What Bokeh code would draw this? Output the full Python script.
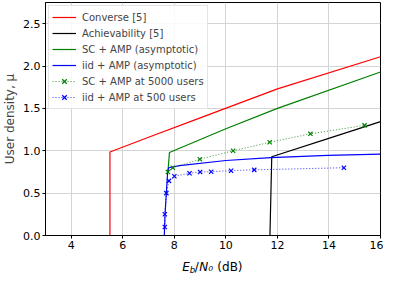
from bokeh.plotting import figure
from bokeh.layouts import column
from bokeh.models import FixedTicker, PrintfTickFormatter, Label, Legend, LegendItem, Range1d
from bokeh.embed import file_html
from bokeh.resources import INLINE

# ---- data ----
conv_x = [5.5, 5.5, 7.0, 8.9, 12.0, 16.0]
conv_y = [0.0, 0.985, 1.16, 1.376, 1.73, 2.11]
ach_x = [11.71, 11.78, 14.02, 16.0]
ach_y = [0.0, 0.93, 1.15, 1.344]
sc_x = [7.75, 7.81, 10.0, 12.0, 16.0]
sc_y = [0.75, 0.98, 1.26, 1.50, 1.93]
iid_x = [7.61, 7.64, 7.69, 7.74, 7.78, 8.2, 10.0, 11.74, 13.96, 16.0]
iid_y = [0.0, 0.25, 0.5, 0.75, 0.80, 0.825, 0.885, 0.92, 0.946, 0.96]
sc5000_x = [7.75, 7.94, 8.99, 10.28, 11.70, 13.28, 15.38]
sc5000_y = [0.75, 0.80, 0.90, 1.00, 1.10, 1.20, 1.30]
iid500_x = [7.63, 7.63, 7.69, 7.79, 8.0, 8.59, 9.0, 9.43, 10.2, 11.1, 14.58]
iid500_y = [0.10, 0.25, 0.50, 0.645, 0.70, 0.735, 0.75, 0.753, 0.765, 0.775, 0.80]

x_ticks = [4, 6, 8, 10, 12, 14, 16]
y_ticks = [0.0, 0.5, 1.0, 1.5, 2.0, 2.5]
labels = ["Converse [5]", "Achievability [5]", "SC + AMP (asymptotic)",
          "iid + AMP (asymptotic)", "SC + AMP at 5000 users", "iid + AMP at 500 users"]

FONT = "DejaVu Sans"
RED, BLACK, GREEN, BLUE = "#ff0000", "#000000", "#008000", "#0000ff"
W = 383
LEFT, RIGHT = 39, 3

p = figure(width=W, height=252, output_backend="svg", toolbar_location=None,
           x_range=Range1d(3, 16), y_range=Range1d(0, 2.75),
           min_border_left=LEFT, min_border_right=RIGHT, min_border_top=2, min_border_bottom=17)
p.background_fill_color = "white"
p.border_fill_color = "white"
p.outline_line_color = "black"
p.outline_line_width = 1

for ax in (p.xaxis[0], p.yaxis[0]):
    ax.major_label_text_font = FONT
    ax.major_label_text_font_size = "11px"
    ax.major_label_text_color = "black"
    ax.axis_line_color = "black"
    ax.major_tick_line_color = "black"
    ax.major_tick_out = 3
    ax.major_tick_in = 0
    ax.minor_tick_line_color = None
    ax.major_label_standoff = 2

p.xaxis.ticker = FixedTicker(ticks=x_ticks)
p.yaxis.ticker = FixedTicker(ticks=y_ticks)
p.yaxis.formatter = PrintfTickFormatter(format="%.1f")
p.xaxis.axis_label = None
p.yaxis.axis_label = "User density, \u03bc"
p.yaxis.axis_label_text_font = FONT
p.yaxis.axis_label_text_font_size = "12px"
p.yaxis.axis_label_text_font_style = "normal"
p.yaxis.axis_label_standoff = 3

p.grid.grid_line_color = "#d4d4d4"
p.grid.grid_line_width = 1

lw = 1.2
r1 = p.line(conv_x, conv_y, line_color=RED, line_width=lw)
r2 = p.line(ach_x, ach_y, line_color=BLACK, line_width=lw)
r3 = p.line(sc_x, sc_y, line_color=GREEN, line_width=lw)
r4 = p.line(iid_x, iid_y, line_color=BLUE, line_width=lw)
r5l = p.line(sc5000_x, sc5000_y, line_color=GREEN, line_width=1, line_dash="1 2", line_alpha=0.8)
r5m = p.scatter(sc5000_x, sc5000_y, marker="x", size=6, line_color=GREEN, line_width=1.2)
r6l = p.line(iid500_x, iid500_y, line_color=BLUE, line_width=1, line_dash="1 2", line_alpha=0.8)
r6m = p.scatter(iid500_x, iid500_y, marker="x", size=6, line_color=BLUE, line_width=1.2)

legend = Legend(items=[
    LegendItem(label=labels[0], renderers=[r1]),
    LegendItem(label=labels[1], renderers=[r2]),
    LegendItem(label=labels[2], renderers=[r3]),
    LegendItem(label=labels[3], renderers=[r4]),
    LegendItem(label=labels[4], renderers=[r5l, r5m]),
    LegendItem(label=labels[5], renderers=[r6l, r6m]),
], location="top_left")
legend.label_text_font = FONT
legend.label_text_font_size = "10px"
legend.label_height = 16
legend.glyph_height = 16
legend.glyph_width = 24
legend.label_standoff = 6
legend.spacing = 0
legend.padding = 3
legend.margin = 3
legend.border_line_color = "#cccccc"
legend.border_line_width = 1
legend.background_fill_alpha = 0.85
p.add_layout(legend)

# second strip holding the x axis label: E_b/N_0 (dB)
lab = figure(width=W, height=21, output_backend="svg", toolbar_location=None,
             x_range=p.x_range, y_range=Range1d(0, 21),
             x_axis_location=None, y_axis_location=None,
             min_border_left=LEFT, min_border_right=RIGHT, min_border_top=0, min_border_bottom=0)
lab.grid.visible = False
lab.outline_line_color = None
lab.background_fill_color = "white"
lab.border_fill_color = "white"

lab_x = 8.31
base_y = 7.0
sub_y = 4.0
pieces = [
    ("E", 0.0, base_y, "12px", "italic"),
    ("b", 7.5, sub_y, "8.5px", "italic"),
    ("/", 12.5, base_y, "12px", "normal"),
    ("N\u2080", 17.0, base_y, "12px", "italic"),
    ("(dB)", 35.0, base_y, "12px", "normal"),
]
for txt, dx, yy, fs, st in pieces:
    lab.add_layout(Label(x=lab_x, y=yy, text=txt, x_offset=dx,
                         text_font=FONT, text_font_size=fs, text_font_style=st,
                         text_color="black", text_baseline="alphabetic"))

layout = column(p, lab, spacing=0)
open("out.html", "w").write(file_html(layout, INLINE))
